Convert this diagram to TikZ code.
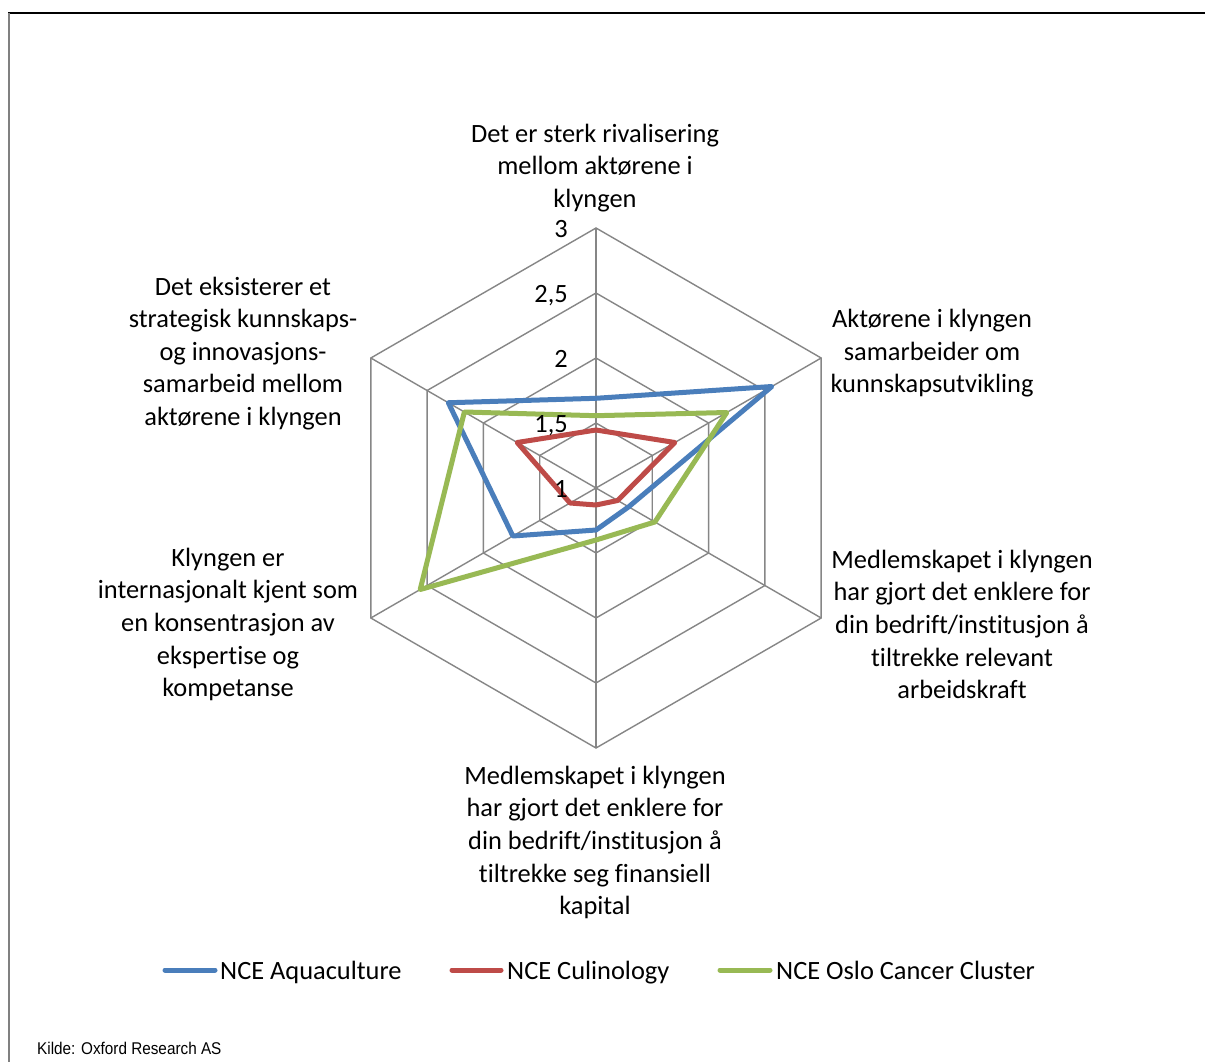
\documentclass[tikz,border=0pt]{standalone}
\usepackage{fontspec}
\setmainfont{Carlito}[Ligatures=NoCommon]
\newfontfamily\kfont[FakeStretch=0.9]{Liberation Sans}
\newcommand\lf{\fontsize{26.4}{32.6}\selectfont}
\definecolor{cblue}{HTML}{4A7EBB}
\definecolor{cred}{HTML}{BE4B48}
\definecolor{cgreen}{HTML}{98B954}
\definecolor{gridc}{HTML}{868686}
\begin{document}
\begin{tikzpicture}[x=1pt,y=-1pt,
  gridline/.style={draw=gridc, line width=1.4pt},
  ser/.style={line width=5pt, line join=round},
  lab/.style={align=center, inner sep=0pt, font=\lf},
  tick/.style={anchor=base east, inner sep=0pt, font=\lf},
  legline/.style={line width=5pt, line cap=round},
  legtext/.style={anchor=base west, inner sep=0pt, font=\lf}]
\useasboundingbox (0,0) rectangle (1205,1062);
\fill[white] (0,0) rectangle (1205,1062);
% frame
\draw[black, line width=2pt] (8,13) -- (1205,13);
\draw[gray, line width=2pt] (9,13) -- (9,1062);
\coordinate (C) at (596,488);
\begin{scope}[shift={(C)}]
  \foreach \r in {65,130,195,260}
    \draw[gridline] (-90:\r) -- (-30:\r) -- (30:\r) -- (90:\r) -- (150:\r) -- (210:\r) -- cycle;
  \foreach \a in {-90,-30,30,90,150,210}
    \draw[gridline] (0,0) -- (\a:260);
  % series
  \draw[ser, cblue] (-90:89.7) -- (-30:203) -- (30:37.7) -- (90:42) -- (150:96) -- (210:170.5) -- cycle;
  \draw[ser, cred] (-90:58) -- (-30:91) -- (30:25) -- (90:17) -- (150:30) -- (210:91) -- cycle;
  \draw[ser, cgreen] (-90:72.3) -- (-30:151) -- (30:68) -- (90:52) -- (150:203) -- (210:152) -- cycle;
\end{scope}
% tick labels
\node[tick] (t3) at (568,237) {3};
\node[tick] (t25) at (568,302) {2,5};
\node[tick] (t2) at (568,367) {2};
\node[tick] (t15) at (568,432) {1,5};
\node[tick] (t1) at (568,497) {1};
% axis labels
\node[lab] (a1) at (595,168) {Det er sterk rivalisering\\mellom aktørene i\\klyngen};
\node[lab] (a2) at (932,353.5) {Aktørene i klyngen\\samarbeider om\\kunnskapsutvikling};
\node[lab] (a3) at (962,624.5) {Medlemskapet i klyngen\\har gjort det enklere for\\din bedrift/institusjon å\\tiltrekke relevant\\arbeidskraft};
\node[lab] (a4) at (595,842.5) {Medlemskapet i klyngen\\har gjort det enklere for\\din bedrift/institusjon å\\tiltrekke seg finansiell\\kapital};
\node[lab] (a5) at (228,624.5) {Klyngen er\\internasjonalt kjent som\\en konsentrasjon av\\ekspertise og\\kompetanse};
\node[lab] (a6) at (243,353.5) {Det eksisterer et\\strategisk kunnskaps-\\og innovasjons-\\samarbeid mellom\\aktørene i klyngen};
% legend
\coordinate (l1a) at (165,970); \coordinate (l1b) at (215,970);
\coordinate (l2a) at (452,970); \coordinate (l2b) at (501,970);
\coordinate (l3a) at (720,970); \coordinate (l3b) at (770,970);
\draw[legline, cblue] (l1a) -- (l1b);
\draw[legline, cred] (l2a) -- (l2b);
\draw[legline, cgreen] (l3a) -- (l3b);
\node[legtext] (g1) at (220,979.5) {NCE Aquaculture};
\node[legtext] (g2) at (507,979.5) {NCE Culinology};
\node[legtext] (g3) at (776,979.5) {NCE Oslo Cancer Cluster};
% source
\node[anchor=base west, inner sep=0pt, font=\kfont\fontsize{17}{19}\selectfont] (src) at (37,1054.5) {Kilde: Oxford Research AS};
\end{tikzpicture}
\end{document}
